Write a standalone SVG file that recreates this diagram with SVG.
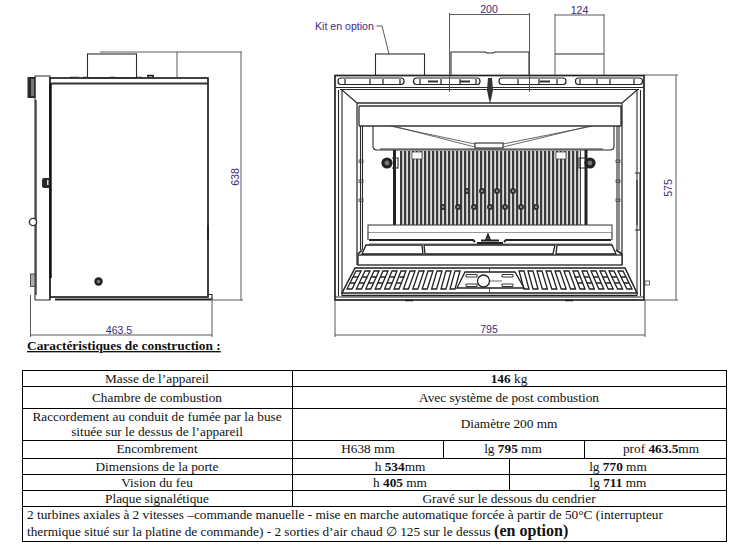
<svg xmlns="http://www.w3.org/2000/svg" xmlns:xlink="http://www.w3.org/1999/xlink" width="735" height="549" viewBox="0 0 735 549">
<style>
.l{fill:none;stroke:#2a2a2a;stroke-width:1.1}
.t{fill:none;stroke:#444;stroke-width:.8}
.h{fill:none;stroke:#222;stroke-width:1.7}
.k{fill:#2a2a2a;stroke:none}
.d{fill:none;stroke:#484848;stroke-width:.9}
.dim{font-family:"Liberation Sans",Arial,sans-serif;font-size:10.6px;fill:#3f2a7d}
.tx{font-family:"Liberation Serif","Times New Roman",serif;font-size:13.3px;fill:#111}
.c{text-anchor:middle}
.b{font-weight:bold}
.g{fill:none;stroke:#000;stroke-width:1}
.s{fill:#fff;stroke:#222;stroke-width:1.3}
</style>
<defs>
<pattern id="grate" x="400" y="0" width="4" height="10" patternUnits="userSpaceOnUse">
<rect width="4" height="10" fill="#ddd"/><rect width="2.2" height="10" fill="#3c3c3c"/>
</pattern>
<g id="dot"><circle r="3" fill="#333"/><circle r="1" fill="#aaa"/></g>
<g id="wheel"><circle r="5.6" fill="#222"/><circle r="2.400" fill="#777"/></g>
<g id="lugs"><rect x="0" y="0" width="4" height="2.500" class="t" fill="#fff"/></g>
<g id="bars"><path d="M353,277h5M350,283h5" stroke="#222" stroke-width="1.300" fill="none"/></g>
<g id="ashside">
<polygon points="356,271 361,271 352,289 347,289" class="s"/>
<polygon points="365,271 370,271 361.400,289 356.400,289" class="s"/>
<polygon points="374,271 379,271 370.800,289 365.800,289" class="s"/>
<polygon points="383,271 388,271 380.200,289 375.200,289" class="s"/>
<polygon points="392,271 397,271 389.600,289 384.600,289" class="s"/>
<polygon points="401,271 406,271 399,289 394,289" class="s"/>
<polygon points="410,271 415,271 408.400,289 403.400,289" class="s"/>
<polygon points="419,271 424,271 417.800,289 412.800,289" class="s"/>
<polygon points="428,271 433,271 427.200,289 422.200,289" class="s"/>
<polygon points="437,271 442,271 436.600,289 431.600,289" class="s"/>
<polygon points="446,271 451,271 446,289 441,289" class="s"/>
<polygon points="455,271 460,271 455,289 450,289" class="s"/>
<use xlink:href="#bars" href="#bars"/>
<use xlink:href="#bars" href="#bars" x="9.300"/>
<use xlink:href="#bars" href="#bars" x="18.600"/>
<use xlink:href="#bars" href="#bars" x="27.900"/>
<use xlink:href="#bars" href="#bars" x="37.200"/>
<use xlink:href="#bars" href="#bars" x="46.500"/>
</g>
</defs>
<rect width="735" height="549" fill="#fff"/>

<g id="side-view">
<rect x="50" y="78" width="158" height="219" class="h"/>
<path d="M50,83.500H208" stroke="#333" stroke-width="1.800" fill="none"/>
<path d="M35,300V76H50V300H35" class="l"/>
<path d="M36,100V295" stroke="#333" stroke-width="1.400" fill="none"/>
<path d="M50.500,84V278" stroke="#111" stroke-width="2.400" fill="none"/>
<path d="M55,299.500H211" stroke="#222" stroke-width="2" fill="none"/>
<path d="M50,297V300" class="l"/>
<path d="M208,294.500H212V300" class="l"/>
<rect x="87.500" y="54" width="49" height="24" class="l"/>
<rect x="27.500" y="77" width="8" height="21" class="k"/>
<rect x="31" y="79" width="3" height="17" fill="#777"/>
<path d="M42,180Q42,178 44,178H50V188H44Q42,188 42,186Z" class="k"/>
<rect x="47" y="180" width="1.500" height="5" fill="#ddd"/>
<circle cx="33" cy="222" r="3.600" fill="#fff" stroke="#333" stroke-width="1.400"/>
<rect x="30.500" y="274" width="4.500" height="12.500" fill="#aaa" stroke="#333" stroke-width=".8"/>
<use xlink:href="#wheel" href="#wheel" transform="translate(98.500,281.500) scale(.75)"/>
<path d="M70,77.500H79M83,77.500H88M110,77.500H115M137,77.500H142M147,77.500H154" stroke="#333" stroke-width="1.500" fill="none"/>
<path d="M148,77V75.500H153V77" class="h"/>
<path d="M208,225V240" stroke="#222" stroke-width="2" fill="none"/>
</g>

<g id="front-view">
<rect x="335" y="75.500" width="309" height="224.500" class="h"/>
<path d="M335,297H644M335,87.500H644M340,89.500H639" class="l"/>
<path d="M338.500,90V296M342,90V296M637,90V296M640.500,90V296" class="l"/>
<g class="h" style="stroke-width:1.200">
<rect x="338" y="78" width="66" height="6.500" rx="3"/>
<rect x="413.500" y="78" width="66.500" height="6.500" rx="3"/>
<rect x="499" y="78" width="67" height="6.500" rx="3"/>
<rect x="575.500" y="78" width="67" height="6.500" rx="3"/>
</g>
<path d="M345,79v5M370,79v5M383,79v5M400,79v5M420,79v5M441,79v5M460,79v5M476,79v5M518,79v5M539,79v5M557,79v5M580,79v5M597,79v5M610,79v5M634,79v5" stroke="#333" stroke-width="1.300" fill="none"/>
<path d="M428,81.500h10M460,81.500h10M540,81.500h10" stroke="#333" stroke-width="2" fill="none"/>
<path d="M342,90L357,103M637,90L622,103" class="l"/>
<path d="M357,103H622" stroke="#333" stroke-width="1.500" fill="none"/>
<path d="M359,106H621M359,126H621" stroke="#333" stroke-width="1.300" fill="none"/>
<path d="M357,103V265M359,106V126M622,103V265M621,106V126" stroke="#333" stroke-width="1.300" fill="none"/>
<path d="M360.500,126V250M362.500,126V250M617,126V250M619,126V250" class="l"/>
<path d="M373,126V146Q373,150 377,150H610Q614,150 614,146V126" class="l"/>
<path d="M390,126L475,144M393,126L475,147M593,126L503,144M590,126L503,147" class="t"/>
<rect x="475" y="143" width="28" height="5" class="l" fill="#fff" style="fill:#fff"/>
<rect x="400" y="151" width="181" height="74" fill="url(#grate)"/>
<path d="M394.500,150V225M586,150V225" stroke="#222" stroke-width="3" fill="none"/>
<path d="M380,149H603" stroke="#333" stroke-width="1" fill="none"/>
<rect x="412" y="152" width="10" height="7" fill="#fff" stroke="#444" stroke-width=".8"/>
<rect x="556" y="152" width="10" height="7" fill="#fff" stroke="#444" stroke-width=".8"/>
<use xlink:href="#wheel" href="#wheel" x="387" y="163"/>
<use xlink:href="#wheel" href="#wheel" x="590" y="163"/>
<path d="M392,158h6v10h-6M585,158h-6v10h6" class="l"/>
<use xlink:href="#lugs" href="#lugs" x="359" y="160"/>
<use xlink:href="#lugs" href="#lugs" x="359" y="180"/>
<use xlink:href="#lugs" href="#lugs" x="359" y="199"/>
<use xlink:href="#lugs" href="#lugs" x="616" y="160"/>
<use xlink:href="#lugs" href="#lugs" x="616" y="180"/>
<use xlink:href="#lugs" href="#lugs" x="616" y="199"/>
<use xlink:href="#dot" href="#dot" x="467" y="191"/>
<use xlink:href="#dot" href="#dot" x="482" y="191"/>
<use xlink:href="#dot" href="#dot" x="497" y="191"/>
<use xlink:href="#dot" href="#dot" x="513" y="191"/>
<use xlink:href="#dot" href="#dot" x="443" y="207"/>
<use xlink:href="#dot" href="#dot" x="458" y="207"/>
<use xlink:href="#dot" href="#dot" x="474" y="207"/>
<use xlink:href="#dot" href="#dot" x="490" y="207"/>
<use xlink:href="#dot" href="#dot" x="505" y="207"/>
<use xlink:href="#dot" href="#dot" x="521" y="207"/>
<use xlink:href="#dot" href="#dot" x="536" y="207"/>
<rect x="368" y="225" width="244" height="8" fill="#fff" stroke="#333" stroke-width="1"/>
<rect x="368" y="233" width="244" height="12" fill="#fff"/>
<path d="M368,233V240M612,233V240" class="l"/>
<path d="M369,240H473L475,242M611,240H506L504,242" stroke="#222" stroke-width="2" fill="none"/>
<path d="M369,244H612" class="t"/>
<path d="M477,243H503M481,240.500H499M486,240l2,-5l2,5z" stroke="#222" stroke-width="2" fill="none"/>
<path d="M366,245H422L423,254H362Z" fill="#fff" stroke="#222" stroke-width="1.300"/>
<path d="M424,245H555L553,254H425Z" fill="#fff" stroke="#222" stroke-width="1.300"/>
<path d="M557,245H612L616,254H556Z" fill="#fff" stroke="#222" stroke-width="1.300"/>
<path d="M362,250L358,254M616,250L622,254" class="h"/>
<rect x="358" y="255" width="264" height="10" fill="#fff" stroke="#222" stroke-width="1.300"/>
<path d="M355,268H625L637,293H342Z" fill="#fff" stroke="#222" stroke-width="1.500"/>
<path d="M342,295.500H637" stroke="#222" stroke-width="1.300" fill="none"/>
<path d="M489.500,268V272M489.500,288V293" class="t"/>
<use xlink:href="#ashside" href="#ashside"/>
<use xlink:href="#ashside" href="#ashside" transform="translate(979,0) scale(-1,1)"/>
<path d="M465,272H515L524,288H457Z" fill="#fff" stroke="#222" stroke-width="1.300"/>
<path d="M466,274.500h11v2.500h-11zM466,284h11v2.500h-11zM502,274.500h11v2.500h-11zM502,284h11v2.500h-11z" fill="#fff" stroke="#222" stroke-width=".9"/>
<path d="M477,281H502" class="t"/>
<circle cx="483.500" cy="281" r="6" fill="#fff" stroke="#222" stroke-width="1.300"/>
<rect x="645" y="281" width="4.500" height="4" class="t" fill="#fff"/>
<path d="M405,300.500h8M565,300.500h8" stroke="#222" stroke-width="1.500" fill="none"/>
<path d="M635,173H640V230H635M637,180V225" class="l"/>
<rect x="375.500" y="54" width="49" height="21.500" class="l"/>
<path d="M451,75V52H485L487,53H493L495,52H529V75" class="l"/>
<path d="M555,54H604" class="l"/>
<path d="M488,78H492L493,90L491,100H489L487,90Z" fill="#333"/>
<path d="M490,100V103" class="l"/>
</g>

<g id="connectors">
<path d="M241,52V300M100,52H242M211,300H243M177,52V78" class="d"/>
<path d="M30.500,295V337M212,297V337M30.500,335H212" class="d"/>
<path d="M335,300V337M645,300V337M335,335H645" class="d"/>
<path d="M676,75V300M644,75H678M645,300H678" class="d"/>
<path d="M449.500,13V92M529.500,13V92M449.500,14.500H529.500" class="d"/>
<path d="M555,14V75M604,14V75M555,15H604" class="d"/>
<path d="M376.500,26H382L389,54" class="d"/>
</g>

<g id="dimension-labels">
<text class="dim c" x="119" y="334">463.5</text>
<text class="dim c" x="489" y="333">795</text>
<text class="dim c" x="489" y="13">200</text>
<text class="dim c" x="579.500" y="14">124</text>
<text class="dim" x="315" y="30">Kit en option</text>
<text class="dim c" transform="translate(239,177) rotate(-90)">638</text>
<text class="dim c" transform="translate(672,188) rotate(-90)">575</text>
</g>

<text class="tx b" x="27" y="350" text-decoration="underline" style="font-size:13.400px">Caractéristiques de construction :</text>

<g id="spec-table">
<rect x="22.500" y="370.500" width="704" height="171" class="g"/>
<path d="M22.500,386.500H726.500M22.500,408.500H726.500M22.500,440.500H726.500M22.500,458.500H726.500M22.500,474.500H726.500M22.500,490.500H726.500M22.500,506.500H726.500" class="g"/>
<path d="M292.500,370.500V506.500M443.500,440.500V458.500M584.500,440.500V458.500M509.500,458.500V490.500" class="g"/>
<text class="tx c" x="157" y="383">Masse de l’appareil</text>
<text class="tx c" x="157" y="402">Chambre de combustion</text>
<text class="tx c" x="157" y="421">Raccordement au conduit de fumée par la buse</text>
<text class="tx c" x="157" y="436">située sur le dessus de l’appareil</text>
<text class="tx c" x="157" y="453">Encombrement</text>
<text class="tx c" x="157" y="471">Dimensions de la porte</text>
<text class="tx c" x="157" y="487">Vision  du feu</text>
<text class="tx c" x="157" y="503">Plaque signalétique</text>
<text class="tx c" x="509" y="383"><tspan class="b">146</tspan> kg</text>
<text class="tx c" x="509" y="402">Avec système de post combustion</text>
<text class="tx c" x="509" y="428">Diamètre 200 mm</text>
<text class="tx c" x="368" y="453">H638 mm</text>
<text class="tx c" x="513" y="453">lg <tspan class="b">795</tspan> mm</text>
<text class="tx c" x="661" y="453">prof <tspan class="b">463.5</tspan>mm</text>
<text class="tx c" x="400" y="471">h <tspan class="b">534</tspan>mm</text>
<text class="tx c" x="618" y="471">lg <tspan class="b">770</tspan> mm</text>
<text class="tx c" x="400" y="487">h <tspan class="b">405</tspan> mm</text>
<text class="tx c" x="618" y="487">lg <tspan class="b">711</tspan> mm</text>
<text class="tx c" x="509" y="503">Gravé sur le dessous du cendrier</text>
<text class="tx" x="27" y="519">2 turbines axiales à 2 vitesses –commande manuelle - mise en marche automatique forcée à partir de 50°C (interrupteur</text>
<text class="tx" x="27" y="536">thermique situé sur la platine de commande) - 2 sorties d’air chaud ∅ 125 sur le dessus <tspan class="b" style="font-size:16px">(en option)</tspan></text>
</g>
</svg>
